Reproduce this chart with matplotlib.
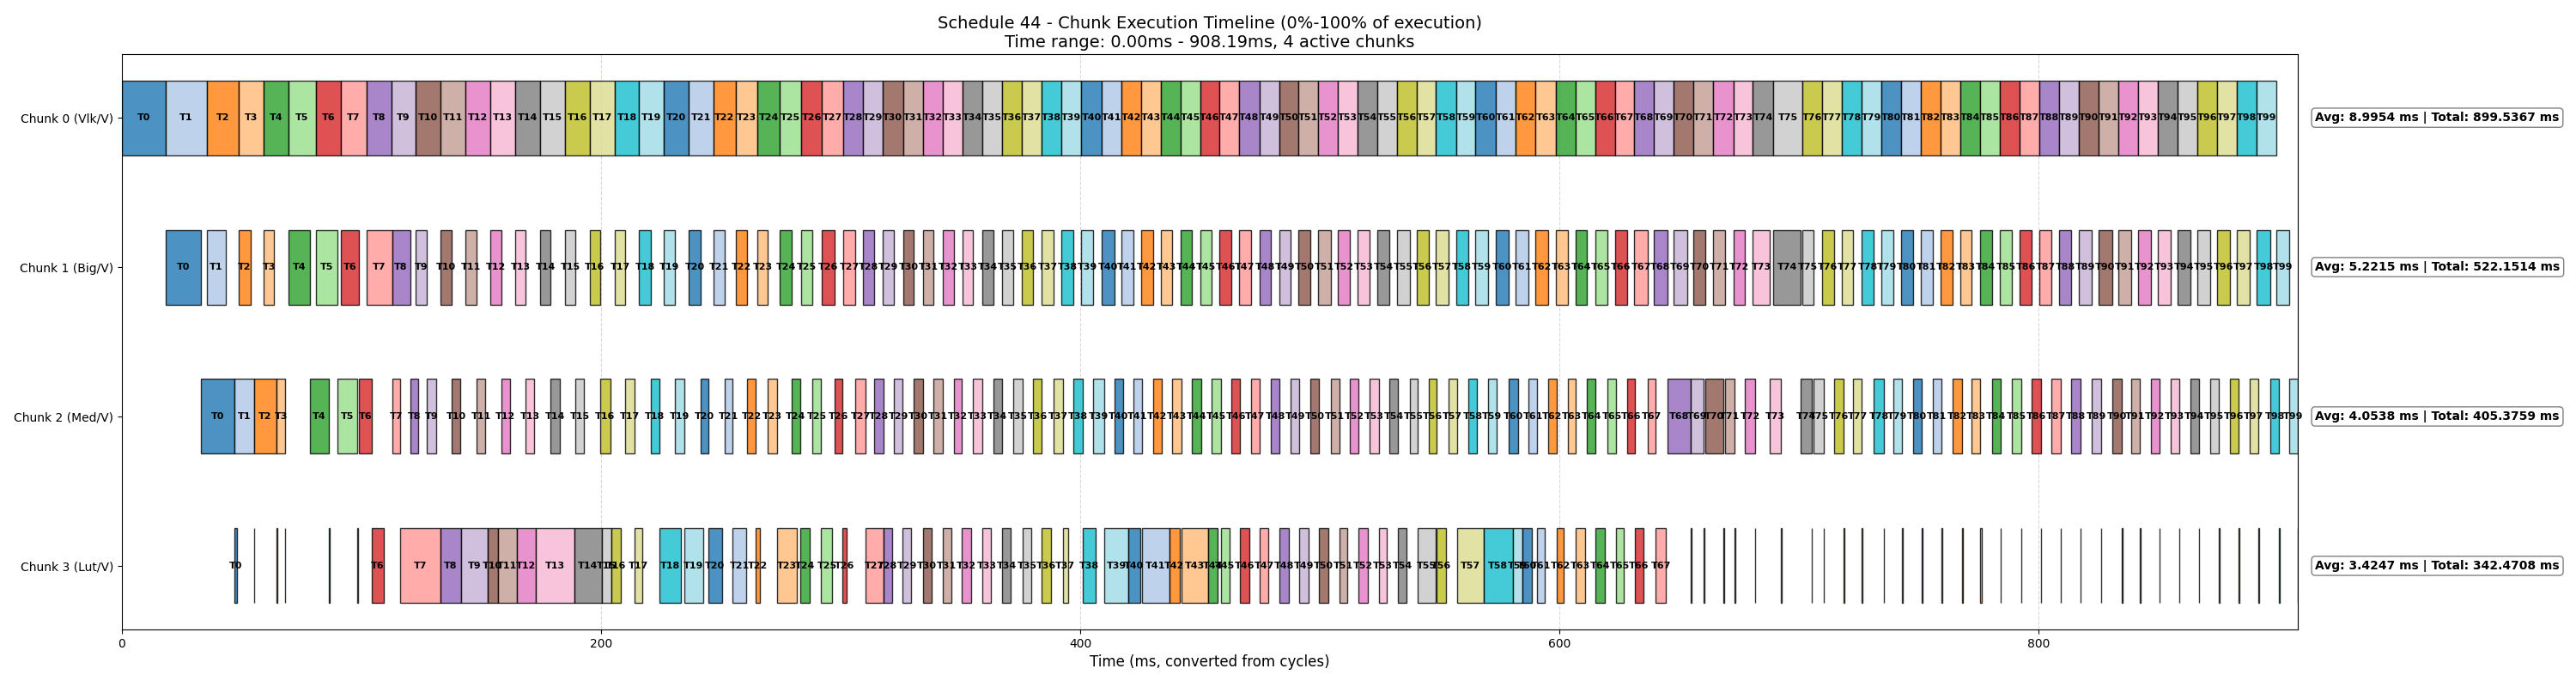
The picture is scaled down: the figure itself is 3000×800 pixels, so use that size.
import matplotlib
matplotlib.use("Agg")
import matplotlib.pyplot as plt

chunk_names = ["Chunk 0 (Vlk/V)", "Chunk 1 (Big/V)", "Chunk 2 (Med/V)", "Chunk 3 (Lut/V)"]
avg_ms = [8.9954, 5.2215, 4.0538, 3.4247]
total_ms = [899.5367, 522.1514, 405.3759, 342.4708]
time_range_end = 908.19

dur_c0 = [18.3,17.2,13.3,10.5,10.3,11.4,10.5,10.5,10.5,10.1,10.3,10.5,10.3,10.5,10.5,10.3,10.3,10.5,10.1,10.3,
          10.5,10.1,9.4,9.1,9.4,8.7,8.9,8.9,
          8.1,8.2,8.6,8.2,8.2,8.4,8.1,
          8.4,8.1,8.4,8.2,8.3,8.7,8.2,8.2,8.2,8.2,8.2,8.1,8.2,8.4,8.2,8.2,8.2,8.2,8.2,8.2,8.2,8.2,
          8.1,8.4,8.1,8.4,8.2,8.5,8.4,8.2,8.2,8.2,8.2,8.2,8.2,8.2,8.4,8.4,7.9,8.7,12.2,8.2,8.2,
          8.25,8.25,8.25,8.25,8.25,8.25,8.25,8.25,8.25,8.25,8.25,8.25,8.25,8.25,8.25,8.25,8.25,8.25,8.25,8.25,8.25,8.25]
dur_c1 = [14.6,7.8,5.0,4.3,8.9,8.9,7.5,10.8,7.5,4.8,4.8,4.6,4.6,4.3,4.3,4.4,4.4,4.4,4.8,4.8,4.8,4.8,4.8,4.4,4.8,4.8,5.1,
          5.0,4.8,4.7,4.5,4.5,4.7,4.4,4.7,
          4.8,4.8,5.1,5.1,5.0,5.1,4.8,4.8,4.8,4.8,4.8,4.9,4.8,4.8,4.8,4.8,5.1,5.1,5.1,5.1,5.5,
          5.1,5.1,5.1,5.1,5.5,5.5,5.1,5.1,4.8,5.1,5.1,5.5,5.5,5.5,5.1,4.8,4.8,7.3,11.5,4.7,4.8,
          4.7,5.1,4.9,4.9,4.9,4.9,4.7,4.9,5.1,5.1,5.1,5.1,5.1,5.5,5.1,5.1,5.1,5.1,5.1,5.1,5.1,5.5,5.1]
dur_c2 = [14.0,8.2,9.6,3.4,8.0,8.5,5.5,3.4,3.4,3.7,3.7,3.7,3.7,3.7,
          3.9,3.6,4.1,3.9,3.7,3.7,3.3,3.3,3.7,3.7,3.7,3.7,3.5,4.1,3.7,3.7,3.7,3.7,3.3,3.7,
          3.7,3.7,3.7,3.7,3.7,4.8,3.7,3.7,3.7,3.7,3.7,3.7,3.7,3.7,3.7,3.7,3.7,3.7,3.5,3.8,3.5,3.3,
          3.2,3.7,3.7,3.7,3.7,3.7,3.7,3.3,3.7,3.7,3.3,3.3,9.8,5.5,7.6,4.1,4.1,4.4,4.4,4.1,4.1,
          3.6,4.1,3.7,3.7,3.7,4.0,3.6,3.6,3.7,3.7,3.7,3.6,4.0,4.1,3.8,3.6,3.6,3.7,3.7,3.7,3.7,3.8,3.7]
dur_c3 = [1.1,0.3,0.2,0.2,0.4,0.2,4.8,16.7,8.7,11.0,4.3,8.0,7.8,16.2,11.4,4.1,3.9,3.0,9.1,8.0,
          5.7,5.8,1.5,8.2,3.9,4.7,1.5,7.5,3.6,3.6,3.7,3.6,3.9,3.9,3.7,3.7,3.7,2.2,5.5,9.7,
          5.1,11.5,4.1,11.1,4.1,3.7,3.7,3.7,3.7,3.7,3.7,3.3,3.7,3.3,3.7,7.3,4.1,11.1,12.2,3.9,
          4.1,3.0,3.0,3.7,3.7,3.3,3.7,4.4,
          0.2,0.2,0.2,0.4,0.2,0.5,0.2,0.2,0.2,0.2,0.2,0.2,0.2,0.2,0.2,0.5,
          0.2,0.2,0.2,0.2,0.2,0.2,0.2,0.2,0.2,0.2,0.2,0.2,0.2,0.2,0.2,0.2]
durations = [dur_c0, dur_c1, dur_c2, dur_c3]

# pipeline schedule: a task starts when the previous chunk finished it and this chunk is free
starts = []
prev_end = None
for c, durs in enumerate(durations):
    s_list, e_list = [], []
    free = 0.0
    for k, d in enumerate(durs):
        s = free if prev_end is None else max(free, prev_end[k])
        s_list.append(s)
        e_list.append(s + d)
        free = s + d
    starts.append(s_list)
    prev_end = e_list

fig = plt.figure(figsize=(30, 8), dpi=100)
ax = fig.add_axes([0.0473, 0.084, 0.8447, 0.837])
cmap = plt.get_cmap("tab20")
for c, durs in enumerate(durations):
    for k, d in enumerate(durs):
        s = starts[c][k]
        ax.barh(c, d, left=s, height=0.5, color=cmap(k % 20), alpha=0.8,
                edgecolor="black", linewidth=1)
        if d > 1.0:
            ax.text(s + d / 2, c, f"T{k}", ha="center", va="center",
                    fontsize=8, fontweight="bold")
    ax.text(1.008, c, f"Avg: {avg_ms[c]:.4f} ms | Total: {total_ms[c]:.4f} ms",
            transform=ax.get_yaxis_transform(), ha="left", va="center",
            fontsize=10, fontweight="bold",
            bbox=dict(boxstyle="round,pad=0.3", facecolor="white", edgecolor="gray"))

ax.set_yticks(range(4))
ax.set_yticklabels(chunk_names, fontsize=10)
ax.invert_yaxis()
ax.set_xlim(0, time_range_end)
ax.set_xticks([0, 200, 400, 600, 800])
ax.tick_params(axis="x", labelsize=10)
ax.grid(axis="x", linestyle="--", alpha=0.3, color="gray")
ax.set_axisbelow(True)
ax.set_xlabel("Time (ms, converted from cycles)", fontsize=12)
ax.set_title(f"Schedule 44 - Chunk Execution Timeline (0%-100% of execution)\n"
             f"Time range: 0.00ms - {time_range_end:.2f}ms, 4 active chunks", fontsize=14)
fig.savefig("out.png", dpi=100)
